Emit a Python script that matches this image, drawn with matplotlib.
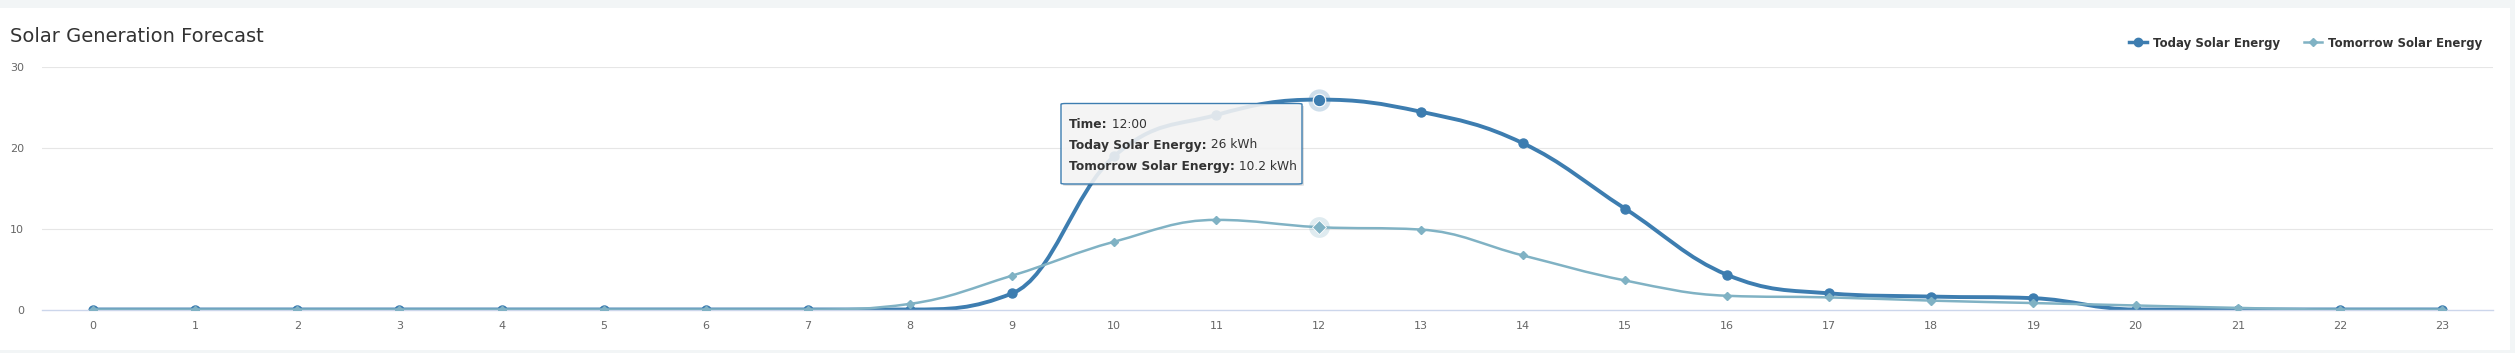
import numpy as np
import matplotlib
matplotlib.use("Agg")
import matplotlib.pyplot as plt
from matplotlib.path import Path
from matplotlib.patches import PathPatch, Rectangle, FancyBboxPatch
from matplotlib.lines import Line2D

hours = list(range(24))
today = [0, 0, 0, 0, 0, 0, 0, 0, 0, 2.0, 19.0, 24.1, 26, 24.5, 20.6, 12.5,
         4.3, 2.0, 1.6, 1.4, 0, 0, 0, 0]
tomorrow = [0, 0, 0, 0, 0, 0, 0, 0, 0.7, 4.2, 8.4, 11.1, 10.2, 9.9, 6.7, 3.6,
            1.7, 1.5, 1.1, 0.8, 0.5, 0.2, 0, 0]
y_ticks = [0, 10, 20, 30]
hover_hour = 12

series_names = ["Today Solar Energy", "Tomorrow Solar Energy"]
c_today = "#3d7db0"
c_tomorrow = "#80b2c4"

W, H = 2515, 353


def fx(x):
    return x / W


def fy(y):
    return 1 - y / H


def spline_path(xs, ys, smoothing=1.5):
    # highcharts style spline control points
    n = len(xs)
    denom = smoothing + 1
    lc = [None] * n
    rc = [None] * n
    for i in range(n):
        x, y = xs[i], ys[i]
        if 0 < i < n - 1:
            lx, ly = xs[i - 1], ys[i - 1]
            nx, ny = xs[i + 1], ys[i + 1]
            lcx = (smoothing * x + lx) / denom
            lcy = (smoothing * y + ly) / denom
            rcx = (smoothing * x + nx) / denom
            rcy = (smoothing * y + ny) / denom
            if rcx != lcx:
                corr = (rcy - lcy) * (rcx - x) / (rcx - lcx) + y - rcy
                lcy += corr
                rcy += corr
            if lcy > ly and lcy > y:
                lcy = max(ly, y)
                rcy = 2 * y - lcy
            elif lcy < ly and lcy < y:
                lcy = min(ly, y)
                rcy = 2 * y - lcy
            if rcy > ny and rcy > y:
                rcy = max(ny, y)
                lcy = 2 * y - rcy
            elif rcy < ny and rcy < y:
                rcy = min(ny, y)
                lcy = 2 * y - rcy
            lc[i] = (lcx, lcy)
            rc[i] = (rcx, rcy)
        else:
            lc[i] = rc[i] = (x, y)
    verts = [(xs[0], ys[0])]
    codes = [Path.MOVETO]
    for i in range(1, n):
        verts += [rc[i - 1], lc[i], (xs[i], ys[i])]
        codes += [Path.CURVE4] * 3
    return Path(verts, codes)


fig = plt.figure(figsize=(W / 100, H / 100), dpi=100)
fig.patch.set_facecolor("#f2f5f6")
fig.add_artist(Rectangle((0, fy(350)), fx(2510), fy(8) - fy(350),
                         transform=fig.transFigure, facecolor="white",
                         edgecolor="none", zorder=-5))

ax = fig.add_axes([fx(42), fy(309.5), fx(2493) - fx(42), fy(67.3) - fy(309.5)])
ax.set_facecolor("none")
ax.set_xlim(-0.5, 23.5)
ax.set_ylim(0, 30)
ax.set_xticks(hours)
ax.set_xticklabels([str(h) for h in hours])
ax.set_yticks(y_ticks)
ax.tick_params(axis="both", length=0, labelsize=8, labelcolor="#666666")
ax.tick_params(axis="x", pad=8)
ax.tick_params(axis="y", pad=13)
for s in ["top", "right", "left"]:
    ax.spines[s].set_visible(False)
ax.spines["bottom"].set_color("#ccd6eb")
ax.spines["bottom"].set_linewidth(1)
for t in y_ticks[1:]:
    ax.axhline(t, color="#e6e6e6", lw=0.8, zorder=0)

# today series
ax.add_patch(PathPatch(spline_path(hours, today), facecolor="none",
                       edgecolor=c_today, lw=2.8, zorder=2,
                       capstyle="round", joinstyle="round"))
ax.plot(hours, today, ls="none", marker="o", ms=6.5, color=c_today,
        mec=c_today, zorder=2.1)

# tomorrow series
ax.add_patch(PathPatch(spline_path(hours, tomorrow), facecolor="none",
                       edgecolor=c_tomorrow, lw=1.8, zorder=3,
                       capstyle="round", joinstyle="round"))
ax.plot(hours, tomorrow, ls="none", marker="D", ms=4.5, color=c_tomorrow,
        mec=c_tomorrow, zorder=3.1)

# hover state
ax.plot([hover_hour], [today[hover_hour]], ls="none", marker="o", ms=16,
        color=c_today, alpha=0.25, mec="none", zorder=2.2)
ax.plot([hover_hour], [today[hover_hour]], ls="none", marker="o", ms=9,
        color=c_today, mec="white", mew=0.8, zorder=2.3)
ax.plot([hover_hour], [tomorrow[hover_hour]], ls="none", marker="o", ms=15,
        color=c_tomorrow, alpha=0.25, mec="none", zorder=3.2)
ax.plot([hover_hour], [tomorrow[hover_hour]], ls="none", marker="D", ms=7,
        color=c_tomorrow, mec="white", mew=0.6, zorder=3.3)

# title
fig.text(fx(10), fy(41.5), "Solar Generation Forecast", fontsize=14,
         color="#333333", ha="left", va="baseline")

# legend
leg_y = fy(41.7)
for x0, name, col, mk, ms, lw in [
        (2129, series_names[0], c_today, "o", 6, 2.5),
        (2304, series_names[1], c_tomorrow, "D", 4.5, 1.8)]:
    fig.add_artist(Line2D([fx(x0), fx(x0 + 18)], [leg_y, leg_y],
                          transform=fig.transFigure, color=col, lw=lw))
    fig.add_artist(Line2D([fx(x0 + 9)], [leg_y], transform=fig.transFigure,
                          color=col, marker=mk, ms=ms, ls="none"))
    fig.text(fx(x0 + 24), leg_y, name, fontsize=8.5, fontweight="bold",
             color="#333333", ha="left", va="center_baseline")

# tooltip
tx0, ty0, tx1, ty1 = 1061, 103.5, 1302, 184
fig.add_artist(FancyBboxPatch((fx(tx0 + 2), fy(ty1 + 2)), fx(tx1 - tx0),
                              fy(ty0) - fy(ty1),
                              boxstyle="round,pad=0,rounding_size=0.002",
                              transform=fig.transFigure, facecolor="black",
                              edgecolor="none", alpha=0.12, zorder=5))
fig.add_artist(FancyBboxPatch((fx(tx0), fy(ty1)), fx(tx1 - tx0),
                              fy(ty0) - fy(ty1),
                              boxstyle="round,pad=0,rounding_size=0.002",
                              transform=fig.transFigure,
                              facecolor=(0.97, 0.97, 0.97, 0.88),
                              edgecolor=c_today, lw=1, zorder=6))
rows = [("Time:", " 12:00"),
        (series_names[0] + ":", " %g kWh" % today[hover_hour]),
        (series_names[1] + ":", " %g kWh" % tomorrow[hover_hour])]
renderer = fig.canvas.get_renderer()
for k, (b, v) in enumerate(rows):
    yy = fy(122.5 + k * 21)
    tb = fig.text(fx(1069), yy, b, fontsize=8.8, fontweight="bold",
                  color="#333333", va="center_baseline", zorder=7)
    bb = tb.get_window_extent(renderer)
    fig.text(fx(bb.x1), yy, v, fontsize=8.8, color="#333333",
             va="center_baseline", zorder=7)

fig.savefig("out.png", dpi=100)
